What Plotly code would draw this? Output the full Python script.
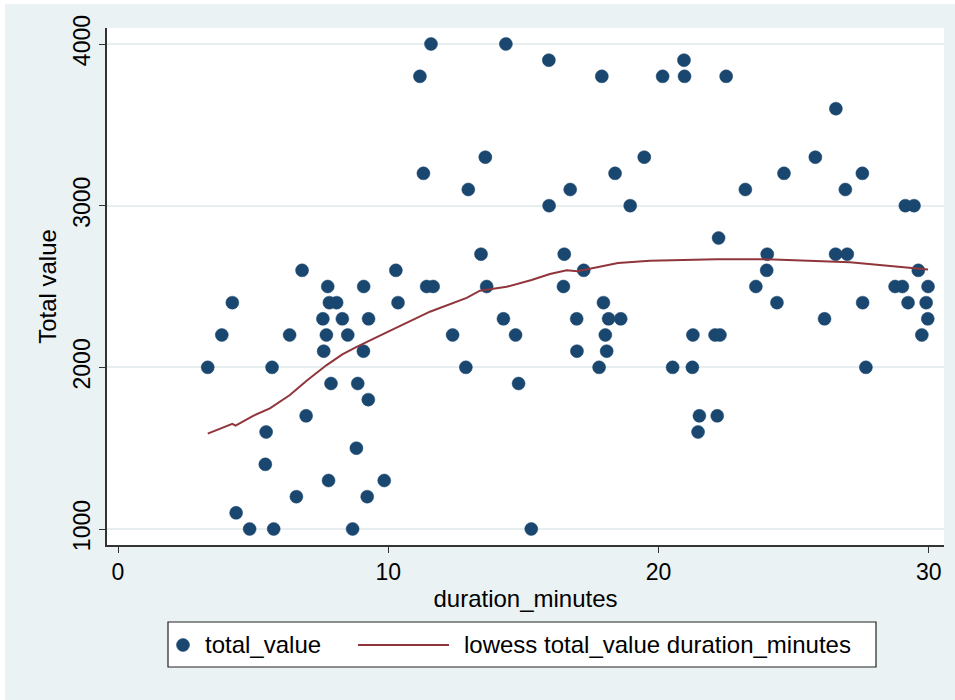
import plotly.graph_objects as go

# Scatter data (duration_minutes, total_value)
duration_minutes = [
    11.58, 14.35, 15.94, 20.94, 11.17, 17.90, 20.15, 20.96, 22.50, 26.56,
    13.59, 19.47, 25.80, 11.30, 18.39, 24.64, 27.54, 12.96, 16.73, 23.21,
    26.91, 15.95, 18.95, 29.13, 29.45, 22.22, 13.43, 16.51, 24.02, 26.55,
    26.98, 6.81, 10.28, 17.23, 24.00, 29.61, 7.76, 9.09, 11.42, 11.66,
    13.64, 16.48, 23.60, 28.75, 29.02, 29.97, 4.23, 7.82, 8.09, 10.36,
    17.96, 24.38, 27.55, 29.23, 29.90, 7.58, 8.30, 9.27, 14.26, 16.97,
    18.15, 18.60, 26.14, 29.96, 3.84, 6.35, 7.71, 8.50, 12.38, 14.71,
    18.03, 21.27, 22.09, 22.27, 29.74, 7.61, 9.08, 16.98, 18.08, 3.32,
    5.70, 12.87, 17.80, 20.52, 21.25, 27.67, 7.88, 8.87, 14.82, 9.26,
    6.96, 21.51, 22.17, 5.48, 21.46, 8.82, 5.45, 7.79, 9.85, 6.60,
    9.22, 4.37, 4.87, 5.76, 8.68, 15.29,
]
total_value = [
    4000, 4000, 3900, 3900, 3800, 3800, 3800, 3800, 3800, 3600,
    3300, 3300, 3300, 3200, 3200, 3200, 3200, 3100, 3100, 3100,
    3100, 3000, 3000, 3000, 3000, 2800, 2700, 2700, 2700, 2700,
    2700, 2600, 2600, 2600, 2600, 2600, 2500, 2500, 2500, 2500,
    2500, 2500, 2500, 2500, 2500, 2500, 2400, 2400, 2400, 2400,
    2400, 2400, 2400, 2400, 2400, 2300, 2300, 2300, 2300, 2300,
    2300, 2300, 2300, 2300, 2200, 2200, 2200, 2200, 2200, 2200,
    2200, 2200, 2200, 2200, 2200, 2100, 2100, 2100, 2100, 2000,
    2000, 2000, 2000, 2000, 2000, 2000, 1900, 1900, 1900, 1800,
    1700, 1700, 1700, 1600, 1600, 1500, 1400, 1300, 1300, 1200,
    1200, 1100, 1000, 1000, 1000, 1000,
]

# Lowess curve
lowess_x = [3.32, 4.23, 4.35, 5.0, 5.62, 6.36, 7.0, 7.72, 8.3, 8.83, 9.69,
            10.8, 11.54, 12.9, 13.39, 14.38, 15.3, 15.98, 16.6, 17.0, 17.5,
            18.5, 19.68, 22.15, 24.0, 27.08, 29.97]
lowess_y = [1590, 1650, 1640, 1700, 1746, 1829, 1920, 2014, 2080, 2127, 2196,
            2282, 2344, 2430, 2474, 2498, 2540, 2577, 2600, 2595, 2612,
            2645, 2660, 2668, 2668, 2650, 2605]

x_ticks = [0, 10, 20, 30]
y_ticks = [1000, 2000, 3000, 4000]

NAVY = "#1a476f"
MAROON = "#90353b"
BG = "#eaf2f3"
FONT = "Liberation Sans"

fig = go.Figure()
fig.add_trace(go.Scatter(
    x=duration_minutes, y=total_value, mode="markers", name="total_value",
    marker=dict(color=NAVY, size=13, line=dict(color=NAVY, width=0.5)),
))
fig.add_trace(go.Scatter(
    x=lowess_x, y=lowess_y, mode="lines",
    name="lowess total_value duration_minutes",
    line=dict(color=MAROON, width=2),
))

W, H = 955, 700
L, R, T, B = 107, 11, 28, 155
pw, ph = W - L - R, H - T - B


def px(xp):
    return (xp - L) / pw


def py(yp):
    return (H - B - yp) / ph


shapes = [
    # outer gray background (white strip on left/top)
    dict(type="rect", xref="paper", yref="paper", x0=px(5), x1=px(W + 20),
         y0=py(4), y1=py(H + 20), fillcolor=BG, line=dict(width=0), layer="below"),
    # white plot region
    dict(type="rect", xref="paper", yref="paper", x0=0, x1=1, y0=0, y1=1,
         fillcolor="white", line=dict(width=0), layer="below"),
    # legend box
    dict(type="rect", xref="paper", yref="paper", x0=px(168), x1=px(876),
         y0=py(667), y1=py(622), fillcolor="white",
         line=dict(color="#222", width=1.2)),
    # legend marker
    dict(type="circle", xref="paper", yref="paper", xsizemode="pixel",
         ysizemode="pixel", xanchor=px(183), yanchor=py(645),
         x0=-6.5, x1=6.5, y0=-6.5, y1=6.5, fillcolor=NAVY,
         line=dict(color=NAVY, width=0.5)),
    # legend line
    dict(type="line", xref="paper", yref="paper", x0=px(358), x1=px(449),
         y0=py(645), y1=py(645), line=dict(color=MAROON, width=2)),
]

annotations = [
    dict(text="total_value", xref="paper", yref="paper", x=px(203), y=py(645),
         xanchor="left", yanchor="middle", showarrow=False,
         font=dict(family=FONT, size=24, color="black")),
    dict(text="lowess total_value duration_minutes", xref="paper", yref="paper",
         x=px(462), y=py(645), xanchor="left", yanchor="middle", showarrow=False,
         font=dict(family=FONT, size=24, color="black")),
]

fig.update_layout(
    width=W, height=H,
    margin=dict(l=L, r=R, t=T, b=B, pad=0),
    paper_bgcolor="white", plot_bgcolor="white",
    showlegend=False,
    font=dict(family=FONT, size=23, color="black"),
    shapes=shapes, annotations=annotations,
    xaxis=dict(
        range=[-0.407, 30.56], tickvals=x_ticks,
        ticktext=[str(v) for v in x_ticks],
        showgrid=False, zeroline=False,
        showline=True, linecolor="#333", linewidth=1.5,
        ticks="outside", ticklen=6, tickcolor="#333", tickwidth=1.2,
        tickfont=dict(family=FONT, size=23, color="black"),
        title=dict(text="duration_minutes", standoff=6,
                   font=dict(family=FONT, size=24, color="black")),
    ),
    yaxis=dict(
        range=[901, 4099], tickvals=y_ticks,
        ticktext=[str(v) for v in y_ticks], tickangle=-90,
        showgrid=True, gridcolor="#e6eef0", gridwidth=1.5, zeroline=False,
        showline=True, linecolor="#333", linewidth=1.5,
        ticks="outside", ticklen=6, tickcolor="#333", tickwidth=1.2,
        tickfont=dict(family=FONT, size=23, color="black"),
        title=dict(text="Total value", standoff=6,
                   font=dict(family=FONT, size=24, color="black")),
    ),
)

fig.write_html(
    "out.html",
    config={"displayModeBar": False},
    post_script="document.body.style.margin='0';document.body.style.overflow='hidden';",
)
